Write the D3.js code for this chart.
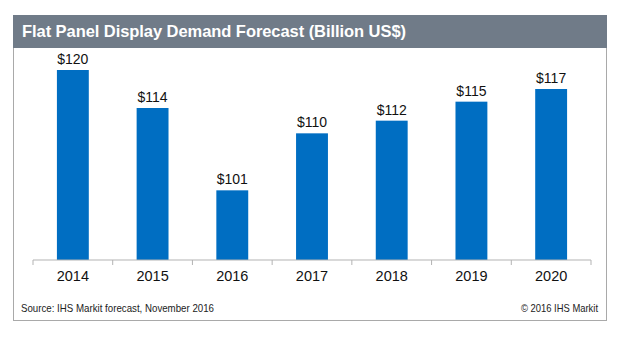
<!DOCTYPE html>
<html>
<head>
<meta charset="utf-8">
<script src="https://cdn.jsdelivr.net/npm/d3@7"></script>
<style>
  body { margin: 0; background: #fff; }
  text { font-family: Arial, "Liberation Sans", sans-serif; }
</style>
</head>
<body>
<svg id="svg" width="626" height="337"></svg>
<script>
var years = ["2014", "2015", "2016", "2017", "2018", "2019", "2020"];
var demand = [120, 114, 101, 110, 112, 115, 117];
var labels = ["$120", "$114", "$101", "$110", "$112", "$115", "$117"];

var svg = d3.select("#svg");

// frame and title band
svg.append("rect")
  .attr("x", 13.5).attr("y", 15.5)
  .attr("width", 593).attr("height", 305)
  .attr("fill", "#fff")
  .attr("stroke", "#a9a9a9");
svg.append("rect")
  .attr("x", 13).attr("y", 15)
  .attr("width", 594).attr("height", 33)
  .attr("fill", "#707b88");
svg.append("text")
  .attr("x", 22).attr("y", 37)
  .attr("fill", "#fff")
  .attr("font-size", 16.5)
  .attr("font-weight", "bold")
  .attr("textLength", 384)
  .attr("lengthAdjust", "spacing")
  .text("Flat Panel Display Demand Forecast (Billion US$)");

var x = d3.scaleBand().domain(years).range([33, 591]).paddingInner(0.6).paddingOuter(0.3);
var y = d3.scaleLinear().domain([90, 120]).range([260, 70]);

var bars = svg.selectAll("rect.bar").data(demand).enter();
bars.append("rect")
  .attr("class", "bar")
  .attr("x", function(d, i) { return x(years[i]); })
  .attr("y", function(d) { return y(d); })
  .attr("width", x.bandwidth())
  .attr("height", function(d) { return y(90) - y(d); })
  .attr("fill", "#006ec2");

svg.selectAll("text.val").data(demand).enter()
  .append("text")
  .attr("class", "val")
  .attr("x", function(d, i) { return x(years[i]) + x.bandwidth() / 2; })
  .attr("y", function(d) { return y(d) - 6; })
  .attr("text-anchor", "middle")
  .attr("font-size", 14)
  .attr("fill", "#111")
  .text(function(d, i) { return labels[i]; });

// category axis with outer ticks at band edges
var axisX = d3.scaleBand().domain(years).range([33, 591]);
var axis = svg.append("g").attr("transform", "translate(0,260)");
axis.append("line")
  .attr("x1", 33).attr("x2", 591)
  .attr("stroke", "#b3b3b3");
axis.selectAll("line.tick").data(years.concat([null])).enter()
  .append("line")
  .attr("class", "tick")
  .attr("x1", function(d, i) { return 33 + i * axisX.step(); })
  .attr("x2", function(d, i) { return 33 + i * axisX.step(); })
  .attr("y1", 0).attr("y2", 5)
  .attr("stroke", "#b3b3b3");
axis.selectAll("text").data(years).enter()
  .append("text")
  .attr("x", function(d) { return axisX(d) + axisX.bandwidth() / 2; })
  .attr("y", 21)
  .attr("text-anchor", "middle")
  .attr("font-size", 14.5)
  .attr("fill", "#111")
  .text(function(d) { return d; });

svg.append("text")
  .attr("x", 21).attr("y", 312)
  .attr("font-size", 11)
  .attr("fill", "#222")
  .attr("textLength", 193)
  .attr("lengthAdjust", "spacingAndGlyphs")
  .text("Source: IHS Markit forecast,  November 2016");
svg.append("text")
  .attr("x", 521).attr("y", 312)
  .attr("font-size", 11)
  .attr("fill", "#222")
  .attr("textLength", 77)
  .attr("lengthAdjust", "spacingAndGlyphs")
  .text("© 2016 IHS Markit");
</script>
</body>
</html>
